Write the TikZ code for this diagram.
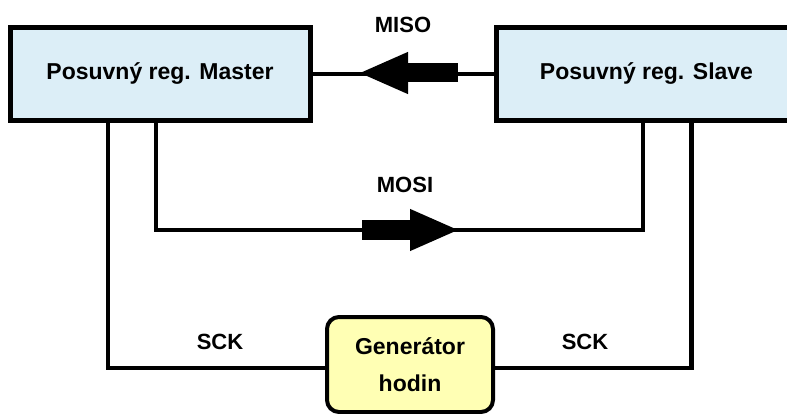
\documentclass[tikz,border=0pt]{standalone}
\usepackage{fontspec}
\setmainfont{Liberation Sans}
\definecolor{regblue}{RGB}{220,238,247}
\definecolor{genyellow}{RGB}{255,255,180}
\usetikzlibrary{arrows.meta, positioning, calc}
\tikzset{
  regbox/.style={rectangle, draw=black, fill=regblue, line width=5pt, minimum width=300pt, minimum height=93pt, font=\fontsize{23}{28}\selectfont\bfseries},
  genbox/.style={rectangle, rounded corners=12pt, draw=black, fill=genyellow, line width=4pt, minimum width=166pt, minimum height=95pt, align=center, font=\fontsize{23}{37}\selectfont\bfseries},
  wire/.style={line width=4.5pt},
  bigarrow/.style={line width=19pt, -{Triangle[length=50pt, width=38pt]}},
  siglabel/.style={font=\fontsize{22}{26}\selectfont\bfseries}
}

\begin{document}
\begin{tikzpicture}[x=1pt, y=-1pt]
  \useasboundingbox (0,0) rectangle (787,414);

  % Shift registers
  \node (master) [regbox] at (160,74) {Posuvný reg. Master};
  \node (slave) [regbox] at (646.5,74) {Posuvný reg. Slave};

  % Clock generator
  \node (gen) [genbox] at (410,364.5) {Generátor\\hodin};

  % MISO line, slave to master
  \draw [wire] (slave.west) -- (master.east);
  \coordinate (misoA) at (458,73);
  \coordinate (misoB) at (358,73);
  \draw [bigarrow] (misoA) -- (misoB);
  \node (miso) [siglabel] at (403,25) {MISO};

  % MOSI line, master to slave
  \draw [wire] ([xshift=-4pt]master.south) -- ++(0,107) -| ([xshift=-3.5pt]slave.south);
  \coordinate (mosiA) at (362,230);
  \coordinate (mosiB) at (460,230);
  \draw [bigarrow] (mosiA) -- (mosiB);
  \node (mosi) [siglabel] at (405,185) {MOSI};

  % Clock lines
  \draw [wire] ([yshift=-3.5pt]gen.west) -| ([xshift=-52pt]master.south);
  \draw [wire] ([yshift=-3.5pt]gen.east) -| ([xshift=45pt]slave.south);
  \node (sckl) [siglabel] at (220,342) {SCK};
  \node (sckr) [siglabel] at (585,342) {SCK};

\end{tikzpicture}
\end{document}
